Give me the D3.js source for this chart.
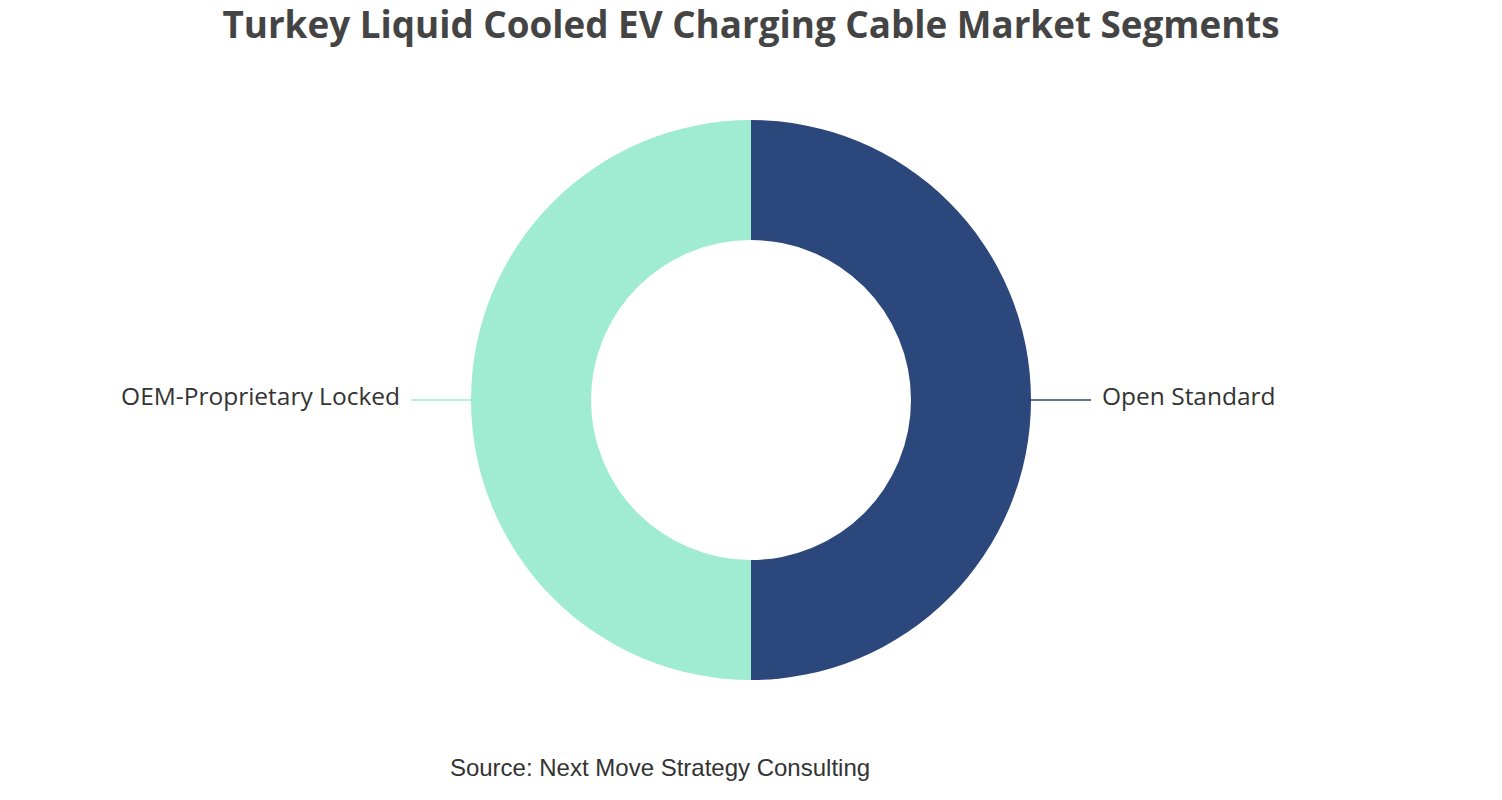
<!DOCTYPE html>
<html>
<head>
<meta charset="utf-8">
<script src="https://cdn.jsdelivr.net/npm/d3@7"></script>
<style>
  body { margin: 0; background: #fff; }
</style>
</head>
<body>
<div id="chart"></div>
<script>
// Segment data
const segments = ["Open Standard", "OEM-Proprietary Locked"];
const shares = [50, 50];
const colors = ["#2b477b", "#a0ecd2"];

const width = 1502, height = 800;
const cx = 751, cy = 400;
const outerR = 280, innerR = 160;

const svg = d3.select("#chart")
    .append("svg")
    .attr("width", width)
    .attr("height", height);

// Title
svg.append("text")
    .attr("x", width / 2)
    .attr("y", 38)
    .attr("text-anchor", "middle")
    .attr("font-family", "'Open Sans', 'Noto Sans', sans-serif")
    .attr("font-weight", "bold")
    .attr("font-size", 36.8)
    .attr("fill", "#444")
    .text("Turkey Liquid Cooled EV Charging Cable Market Segments");

const pieData = segments.map((s, i) => ({ label: s, value: shares[i], color: colors[i] }));

const pie = d3.pie().value(d => d.value).sort(null);
const arc = d3.arc().innerRadius(innerR).outerRadius(outerR);

const g = svg.append("g").attr("transform", `translate(${cx},${cy})`);

const arcs = g.selectAll(".arc")
    .data(pie(pieData))
    .enter()
    .append("g")
    .attr("class", "arc");

arcs.append("path")
    .attr("d", arc)
    .attr("fill", d => d.data.color);

// Leader lines and labels at the mid angle of each slice
arcs.each(function(d) {
    const mid = (d.startAngle + d.endAngle) / 2;
    const sx = Math.sin(mid), sy = -Math.cos(mid);
    const right = sx >= 0;
    const p0 = [sx * outerR, sy * outerR];
    const p1 = [sx * (outerR + 60), sy * (outerR + 60)];
    d3.select(this).append("line")
        .attr("x1", p0[0]).attr("y1", p0[1])
        .attr("x2", p1[0]).attr("y2", p1[1])
        .attr("stroke", d.data.color)
        .attr("stroke-width", 1.5);
    d3.select(this).append("text")
        .attr("x", p1[0] + (right ? 11 : -11))
        .attr("y", p1[1] - 2)
        .attr("dy", "0.3em")
        .attr("text-anchor", right ? "start" : "end")
        .attr("font-family", "'Open Sans', 'Noto Sans', sans-serif")
        .attr("font-size", 24.5)
        .attr("fill", "#333")
        .text(d.data.label);
});

// Source note
svg.append("text")
    .attr("x", 660)
    .attr("y", 776)
    .attr("text-anchor", "middle")
    .attr("font-family", "'Liberation Sans', Arial, sans-serif")
    .attr("font-size", 24)
    .attr("fill", "#333")
    .text("Source: Next Move Strategy Consulting");
</script>
</body>
</html>
